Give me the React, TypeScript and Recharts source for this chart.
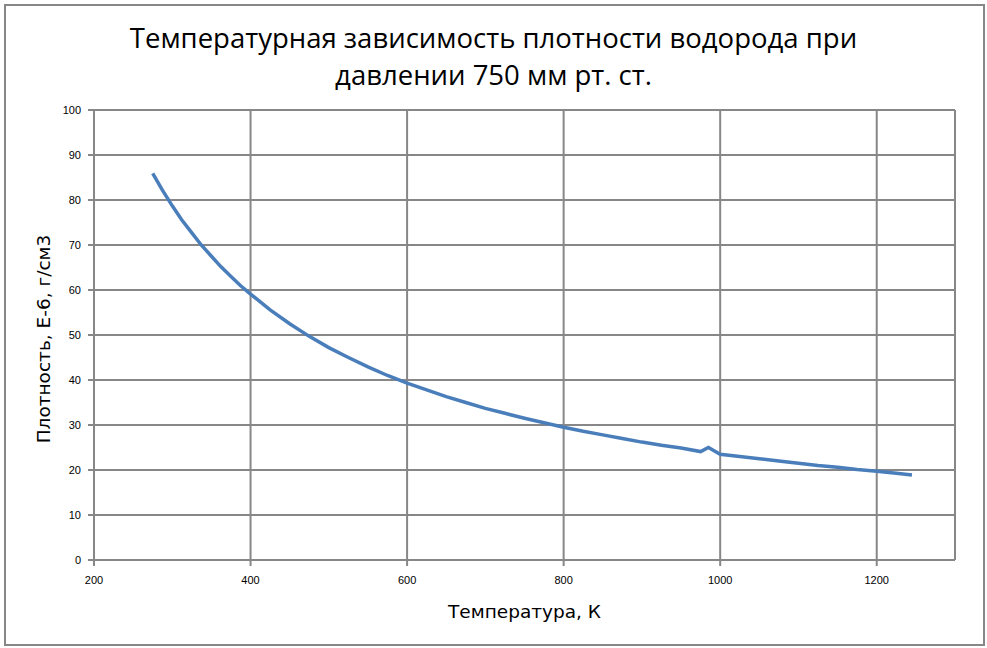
import { LineChart, Line, XAxis, YAxis, CartesianGrid } from 'recharts'

// температура, К
const temps = [
  275, 287, 300, 312, 325, 337, 350, 362, 375, 387, 400, 425, 450, 475, 500, 525, 550, 575,
  600, 625, 650, 675, 700, 725, 750, 775, 800, 825, 850, 875, 900, 925, 950, 975, 985, 1000,
  1025, 1050, 1075, 1100, 1125, 1150, 1175, 1200, 1225, 1245,
]

// плотность, E-6 г/см3
const density = [
  85.9, 82.3, 78.7, 75.6, 72.7, 70.0, 67.5, 65.2, 63.0, 61.0, 59.1, 55.6, 52.5, 49.7, 47.2,
  45.0, 42.9, 41.0, 39.3, 37.8, 36.3, 35.0, 33.7, 32.6, 31.5, 30.5, 29.5, 28.6, 27.8, 27.0,
  26.2, 25.5, 24.9, 24.1, 25.0, 23.5, 23.0, 22.5, 22.0, 21.5, 21.0, 20.6, 20.1, 19.7, 19.3,
  18.9,
]

const xTicks = [200, 400, 600, 800, 1000, 1200]
const yTicks = [0, 10, 20, 30, 40, 50, 60, 70, 80, 90, 100]

const data = temps.map((t, i) => ({ t, rho: density[i] }))

const gray = '#878787'
const tickStyle = { fontSize: 11, fill: '#000', fontFamily: 'Liberation Sans, sans-serif' }

export default function App() {
  return (
    <div style={{ position: 'absolute', left: 0, top: 0, width: 987, height: 648, background: '#fff' }}>
      <div
        style={{
          position: 'absolute', left: 4, top: 4, width: 977, height: 638,
          border: `2px solid ${gray}`,
        }}
      />
      <div
        style={{
          position: 'absolute', left: 0, width: 987, top: 19, textAlign: 'center',
          fontFamily: 'Open Sans, sans-serif', fontSize: 27.5, lineHeight: '37px', color: '#000',
        }}
      >
        Температурная зависимость плотности водорода при
        <br />
        давлении 750 мм рт. ст.
      </div>
      <div style={{ position: 'absolute', left: 43, top: 339, width: 0, height: 0 }}>
        <div
          style={{
            position: 'absolute', transform: 'translate(-50%, -50%) rotate(-90deg)',
            whiteSpace: 'nowrap', fontFamily: 'DejaVu Sans, sans-serif', fontSize: 18.5, color: '#000',
          }}
        >
          Плотность, Е-6, г/см3
        </div>
      </div>
      <div
        style={{
          position: 'absolute', left: 0, width: 1049, top: 601, textAlign: 'center',
          fontFamily: 'DejaVu Sans, sans-serif', fontSize: 18.5, color: '#000',
        }}
      >
        Температура, К
      </div>
      <LineChart
        width={987}
        height={648}
        data={data}
        margin={{ top: 110, right: 32, bottom: 58, left: 0 }}
        style={{ position: 'absolute', left: 0, top: 0 }}
      >
        <CartesianGrid stroke={gray} strokeWidth={2} />
        <XAxis
          type="number"
          dataKey="t"
          domain={[200, 1300]}
          ticks={xTicks}
          allowDataOverflow
          height={30}
          tickSize={6}
          tickMargin={10}
          stroke={gray}
          strokeWidth={2}
          tick={tickStyle}
        />
        <YAxis
          type="number"
          domain={[0, 100]}
          ticks={yTicks}
          width={94}
          tickSize={6}
          tickMargin={7}
          stroke={gray}
          strokeWidth={2}
          tick={tickStyle}
        />
        <Line
          type="linear"
          dataKey="rho"
          stroke="#4a7ebb"
          strokeWidth={3.5}
          dot={false}
          isAnimationActive={false}
        />
      </LineChart>
    </div>
  )
}
